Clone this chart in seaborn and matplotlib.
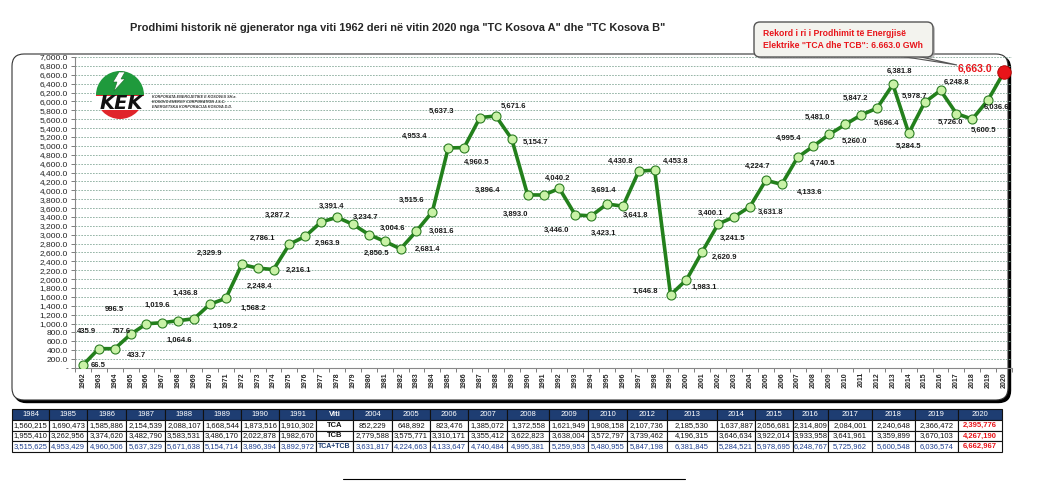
import numpy as np
import matplotlib
matplotlib.use('Agg')
import matplotlib.pyplot as plt
import seaborn as sns
from matplotlib.patches import FancyBboxPatch, Wedge, Rectangle, Polygon
from matplotlib.ticker import FuncFormatter

# --- te dhenat (GWh) ---
years = list(range(1962, 2021))
gwh = [66.5, 435.9, 433.7, 757.6, 996.5, 1019.6, 1064.6, 1109.2, 1436.8, 1568.2,
       2329.9, 2248.4, 2216.1, 2786.1, 2963.9, 3287.2, 3391.4, 3234.7, 3004.6, 2850.5,
       2681.4, 3081.6, 3515.6, 4953.4, 4960.5, 5637.3, 5671.6, 5154.7, 3896.4, 3893.0,
       4040.2, 3446.0, 3423.1, 3691.4, 3641.8, 4430.8, 4453.8, 1646.8, 1983.1, 2620.9,
       3241.5, 3400.1, 3631.8, 4224.7, 4133.6, 4740.5, 4995.4, 5260.0, 5481.0, 5696.4,
       5847.2, 6381.8, 5284.5, 5978.7, 6248.8, 5726.0, 5600.5, 6036.6, 6663.0]

# tabela (MWh)
tbl_years_a = [1984, 1985, 1986, 1987, 1988, 1989, 1990, 1991]
tca_a = [1560215, 1690473, 1585886, 2154539, 2088107, 1668544, 1873516, 1910302]
tcb_a = [1955410, 3262956, 3374620, 3482790, 3583531, 3486170, 2022878, 1982670]
tot_a = [3515625, 4953429, 4960506, 5637329, 5671638, 5154714, 3896394, 3892972]

tbl_years_b = [2004, 2005, 2006, 2007, 2008, 2009, 2010, 2012, 2013, 2014, 2015, 2016,
               2017, 2018, 2019, 2020]
tca_b = [852229, 648892, 823476, 1385072, 1372558, 1621949, 1908158, 2107736, 2185530,
         1637887, 2056681, 2314809, 2084001, 2240648, 2366472, 2395776]
tcb_b = [2779588, 3575771, 3310171, 3355412, 3622823, 3638004, 3572797, 3739462, 4196315,
         3646634, 3922014, 3933958, 3641961, 3359899, 3670103, 4267190]
tot_b = [3631817, 4224663, 4133647, 4740484, 4995381, 5259953, 5480955, 5847198, 6381845,
         5284521, 5978695, 6248767, 5725962, 5600548, 6036574, 6662967]

title = 'Prodhimi historik në gjenerator nga viti 1962 deri në vitin 2020 nga "TC Kosova A" dhe "TC Kosova B"'
callout = ['Rekord i ri i Prodhimit të Energjisë', 'Elektrike "TCA dhe TCB": 6.663.0 GWh']

# pozitat e etiketave (pixel, y poshte)
label_offsets = [(15, 0), (-12, -17), (22, 7), (-9, -3), (-32, -14), (-5, -17), (1, 20),
                 (31, 8), (-25, -11), (27, 10), (-32, -11), (2, 18), (25, 1), (-27, -6),
                 (22, 7), (-44, -7), (-5, -11), (13, -7), (24, -6), (-8, 12), (27, 0),
                 (25, 0), (-21, -11), (-34, -12), (13, 15), (-38, -6), (18, -10), (24, 3),
                 (-40, -5), (-28, 19), (-2, -10), (-19, 15), (12, 17), (-3, -14), (13, 9),
                 (-18, -10), (21, -9), (-25, -3), (18, 7), (22, 6), (14, 14), (-23, -4),
                 (21, 6), (-8, -14), (28, 8), (25, 6), (-25, -8), (25, 7), (-28, -7),
                 (25, 8), (-22, -10), (7, -13), (0, 13), (-10, -6), (16, -8), (-6, 9),
                 (11, 11), (8, 8), (-29, -3)]
col_px = [37, 38, 39, 39, 38, 38, 38, 37, 37, 39, 38, 38, 39, 42, 39, 39, 40, 50, 38, 38,
          35, 44, 43, 43, 44]

sns.set_theme(style='white')
plt.rcParams['font.family'] = ['Liberation Sans', 'DejaVu Sans']

W, H = 1058, 486
fig = plt.figure(figsize=(W / 100, H / 100), dpi=100)


def px_axes(x0, y0, x1, y1, **kw):
    return fig.add_axes([x0 / W, 1 - y1 / H, (x1 - x0) / W, (y1 - y0) / H], **kw)


# korniza e grafikut
bg = fig.add_axes([0, 0, 1, 1], zorder=0)
bg.set_xlim(0, W)
bg.set_ylim(H, 0)
bg.axis('off')
bg.add_patch(FancyBboxPatch((14.5, 56.5), 996, 346, boxstyle='round,pad=0,rounding_size=12',
                            fc='black', ec='black', lw=1))
bg.add_patch(FancyBboxPatch((12, 54), 996, 346, boxstyle='round,pad=0,rounding_size=12',
                            fc='white', ec='#333333', lw=0.8))

# grafiku kryesor
ax = px_axes(75, 57, 1012, 368, zorder=2)
ax.patch.set_alpha(0)
sns.lineplot(x=years, y=gwh, ax=ax, color='#23801c', linewidth=2.6, marker='o',
             markersize=6.5, markerfacecolor='#c9f2a6', markeredgecolor='#2b7d22',
             markeredgewidth=0.8, zorder=3)
sns.scatterplot(x=years[-1:], y=gwh[-1:], ax=ax, s=95, color='#e8141a',
                edgecolor='#b00000', linewidth=0.6, zorder=4)
ax.set_xlim(1961.5, 2020.5)
ax.set_ylim(0, 7000)
ax.set_xlabel('')
ax.set_ylabel('')

ax.set_yticks(np.arange(0, 7001, 200))
ax.yaxis.set_major_formatter(FuncFormatter(lambda v, p: '-' if v == 0 else f'{v:,.1f}'))
ax.grid(axis='y', linestyle=(0, (2, 1.5)), color='#84a898', linewidth=0.6)
ax.grid(axis='x', visible=False)
ax.set_axisbelow(True)
for s in ['top', 'right']:
    ax.spines[s].set_visible(False)
for s in ['left', 'bottom']:
    ax.spines[s].set_color('#888888')
    ax.spines[s].set_linewidth(0.8)
ax.tick_params(axis='y', left=True, length=3, width=0.6, color='#666666', labelsize=6,
               pad=2, labelcolor='#222222')
ax.set_xticks(years)
ax.set_xticklabels([str(y) for y in years], rotation=90, fontsize=5, fontweight='bold')
ax.set_xticks(np.arange(1961.5, 2021, 1), minor=True)
ax.tick_params(axis='x', which='major', bottom=True, length=0, pad=3)
ax.tick_params(axis='x', which='minor', bottom=True, length=3, width=0.6, color='#666666')

for yr, v, (dx, dy) in zip(years[:-1], gwh[:-1], label_offsets[:-1]):
    ax.annotate(f'{v:,.1f}', (yr, v), xytext=(dx, -dy), textcoords='offset pixels',
                ha='center', va='center', fontsize=5.5, fontweight='bold',
                color='#1a1a1a', zorder=5)
dx, dy = label_offsets[-1]
ax.annotate(f'{gwh[-1]:,.1f}', (years[-1], gwh[-1]), xytext=(dx, -dy),
            textcoords='offset pixels', ha='center', va='center', fontsize=7.5,
            fontweight='bold', color='#e8141a', zorder=5)

fig.text(398 / W, 1 - 28 / H, title, ha='center', va='center', fontsize=7.9,
         fontweight='bold')

# logo dhe shenimi
fg = fig.add_axes([0, 0, 1, 1], zorder=5)
fg.set_xlim(0, W)
fg.set_ylim(H, 0)
fg.axis('off')
fg.patch.set_alpha(0)

fg.add_patch(Wedge((120, 95), 24, 180, 360, fc='#1f9a3c', ec='none'))
fg.add_patch(Wedge((120, 95), 24, 0, 180, fc='#e0252b', ec='none'))
fg.add_patch(Rectangle((92, 96), 58, 14, fc='white', ec='none'))
fg.add_patch(Polygon([(119, 72), (125, 72), (121, 79), (125, 79), (114, 91), (117, 82),
                      (113, 82)], closed=True, fc='white', ec='#1a6b2a', lw=0.4))
fg.text(121, 103.5, 'KEK', ha='center', va='center', fontsize=14, fontweight='bold',
        fontstyle='italic', family='DejaVu Sans', color='#111111')
for i, t in enumerate(['KORPORATA ENERGJETIKE E KOSOVËS SH.a.',
                       'KOSOVO ENERGY CORPORATION J.S.C.',
                       'ENERGETSKA KORPORACIJA KOSOVA D.D.']):
    fg.text(152, 97 + 5 * i, t, ha='left', va='center', fontsize=2.7, fontweight='bold',
            fontstyle='italic', color='#333333')

fg.add_patch(FancyBboxPatch((756, 24), 179, 35, boxstyle='round,pad=0,rounding_size=6',
                            fc='#999999', ec='none', alpha=0.6))
fg.add_patch(Polygon([(893, 55), (912, 55), (957, 65)], closed=True, fc='#eeeeea',
                     ec='#555555', lw=0.8))
fg.add_patch(FancyBboxPatch((754, 22), 179, 35, boxstyle='round,pad=0,rounding_size=6',
                            fc='#f3f3ee', ec='#555555', lw=1.0))
for i, t in enumerate(callout):
    fg.text(763, 34 + 12 * i, t, ha='left', va='center', fontsize=6.2, fontweight='bold',
            color='#e8141a')

fg.plot([343, 685], [479, 479], color='black', lw=0.8)

# tabela
tax = px_axes(12, 409, 1002, 452, zorder=3)
tax.axis('off')
hdr = [str(y) for y in tbl_years_a] + ['Viti'] + [str(y) for y in tbl_years_b]
rows = [[f'{v:,}' for v in tca_a] + ['TCA'] + [f'{v:,}' for v in tca_b],
        [f'{v:,}' for v in tcb_a] + ['TCB'] + [f'{v:,}' for v in tcb_b],
        [f'{v:,}' for v in tot_a] + ['TCA+TCB'] + [f'{v:,}' for v in tot_b]]
tbl = tax.table(cellText=rows, colLabels=hdr, colWidths=[w / sum(col_px) for w in col_px],
                bbox=[0, 0, 1, 1], cellLoc='center')
tbl.auto_set_font_size(False)
tbl.set_fontsize(5.5)
viti_col = len(tbl_years_a)
last_col = len(hdr) - 1
for (r, c), cell in tbl.get_celld().items():
    cell.set_linewidth(0.8)
    cell.set_edgecolor('#111111')
    cell.PAD = 0.02
    txt = cell.get_text()
    if r == 0:
        cell.set_facecolor('#1e3d72')
        txt.set_color('white')
        if c == viti_col:
            txt.set_fontweight('bold')
    else:
        cell.set_facecolor('white')
        txt.set_color('#1f3f8f' if r == 3 else '#111111')
        if c == viti_col:
            txt.set_fontweight('bold')
            txt.set_color('#1e3d72' if r == 3 else '#111111')
            if r == 3:
                txt.set_fontsize(5)
        if c == last_col:
            txt.set_color('#e8141a')
            txt.set_fontweight('bold')

fig.savefig('out.png', dpi=100)
